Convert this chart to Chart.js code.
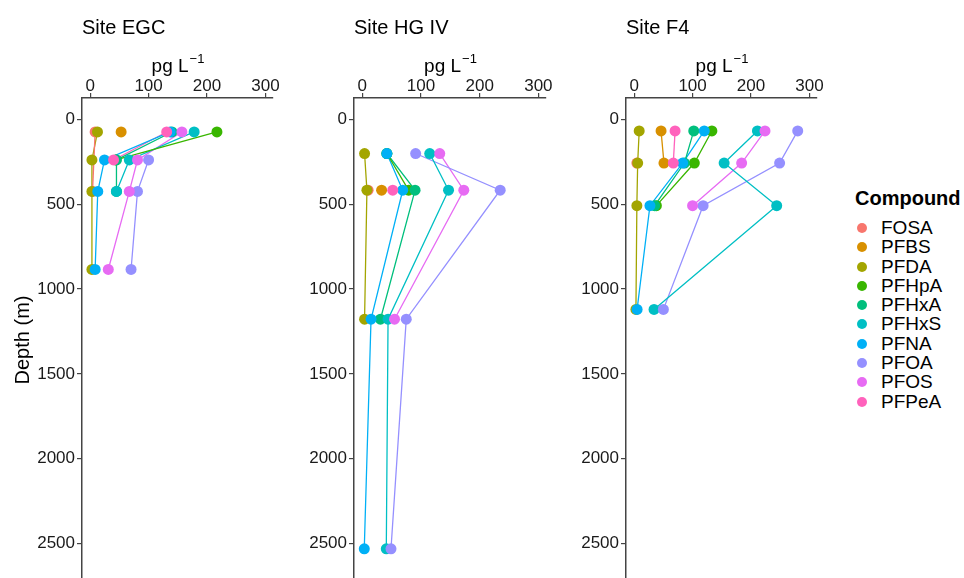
<!DOCTYPE html>
<html>
<head>
<meta charset="utf-8">
<script src="https://cdn.jsdelivr.net/npm/chart.js@4.4.0/dist/chart.umd.min.js"></script>
<style>
  body { margin: 0; background: #fff; width: 964px; height: 578px; overflow: hidden; position: relative;
         font-family: "Liberation Sans", Arial, sans-serif; }
  canvas { position: absolute; top: 0; }
  #legend { position: absolute; left: 855px; top: 186px; color: #000; }
  #legend .ttl { font-weight: bold; font-size: 20px; height: 32px; line-height: 24px; }
  #legend .item { height: 19.3px; line-height: 19.3px; font-size: 19px; position: relative; padding-left: 26px; }
  #legend .dot { position: absolute; left: 2px; top: 5px; width: 10px; height: 10px; border-radius: 50%; }
</style>
</head>
<body>
<canvas id="egc" width="290" height="584" style="left:0px"></canvas>
<canvas id="hg" width="270" height="584" style="left:290px"></canvas>
<canvas id="f4" width="270" height="584" style="left:562px"></canvas>
<div id="legend"></div>
<script>
const compounds = ["FOSA", "PFBS", "PFDA", "PFHpA", "PFHxA", "PFHxS", "PFNA", "PFOA", "PFOS", "PFPeA"];
const colors = ["#F8766D", "#D89000", "#A3A500", "#39B600", "#00BF7D", "#00BFC4", "#00B0F6", "#9590FF", "#E76BF3", "#FF62BC"];
const xTicks = [0, 100, 200, 300];
const yTicks = [0, 500, 1000, 1500, 2000, 2500];

// Site EGC: one row per compound, values (pg/L) at each depth
const egcDepths = [75, 240, 425, 885];
const egcValues = [
  [8.5, null, 4, null],
  [53, null, null, null],
  [12.5, 3, 3, 3],
  [217, 44, null, null],
  [140, 45, 45, null],
  [178, 67, 45, null],
  [137, 24.5, 13, 8.5],
  [null, 100, 81, 70],
  [157, 81, 67, 31],
  [131, 40, null, null]
];

// Site HG IV
const hgDepths = [202, 418, 1178, 2530];
const hgValues = [
  [null, 10, null, null],
  [null, 33, null, null],
  [4, 8, 4, null],
  [42, 79, null, null],
  [42, 90, 31, null],
  [115, 147, 44, 41],
  [42, 69, 15, 3.5],
  [91, 235, 75, 49],
  [132, 173, 55, null],
  [null, 52, null, null]
];

// Site F4
const f4Depths = [69, 258, 509, 1120];
const f4Values = [
  [null, 4.6, null, null],
  [46, 51, null, null],
  [8.6, 6, 4.6, 3],
  [133, 103, 38, null],
  [102, 86, 35, null],
  [211, 154, 244, 34],
  [120, 83, 27, 5],
  [280, 249, 118, 50],
  [224, 184, 100, null],
  [70, 67, null, null]
];

const FONT = '"Liberation Sans", Arial, sans-serif';

function makeDatasets(values, depths) {
  const sets = [];
  values.forEach((row, i) => {
    const pts = [];
    row.forEach((v, j) => { if (v !== null) pts.push({ x: v, y: depths[j] }); });
    // lines underneath, points on top, later compounds over earlier ones
    sets.push({ label: compounds[i] + "_line", data: pts, showLine: true, borderColor: colors[i],
                borderWidth: 1.3, pointRadius: 0, order: 100 });
    sets.push({ label: compounds[i], data: pts, showLine: false, backgroundColor: colors[i],
                borderWidth: 0, pointRadius: 5.5, order: -i });
  });
  return sets;
}

const panelText = {
  id: "panelText",
  afterDraw(chart, args, opts) {
    const { ctx, chartArea } = chart;
    ctx.save();
    ctx.fillStyle = "#000";
    ctx.textBaseline = "alphabetic";
    ctx.textAlign = "left";
    ctx.font = "20px " + FONT;
    ctx.fillText(opts.title, chartArea.left, 34);

    const main = "pg L", sup = "\u22121";
    ctx.font = "19px " + FONT;
    const w1 = ctx.measureText(main).width;
    ctx.font = "13px " + FONT;
    const w2 = ctx.measureText(sup).width;
    const x0 = (chartArea.left + chartArea.right) / 2 - (w1 + w2) / 2;
    ctx.font = "19px " + FONT;
    ctx.fillText(main, x0, 72);
    ctx.font = "13px " + FONT;
    ctx.fillText(sup, x0 + w1 + 1, 63);

    if (opts.yTitle) {
      ctx.translate(29, 340);
      ctx.rotate(-Math.PI / 2);
      ctx.textAlign = "center";
      ctx.font = "20px " + FONT;
      ctx.fillText(opts.yTitle, 0, 0);
    }
    ctx.restore();
  }
};

function makeChart(id, values, depths, title, yw, padRight, yTitle) {
  new Chart(document.getElementById(id), {
    type: "scatter",
    data: { datasets: makeDatasets(values, depths) },
    plugins: [panelText],
    options: {
      responsive: false,
      animation: false,
      events: [],
      layout: { padding: { left: 0, top: 0, right: padRight, bottom: 0 } },
      plugins: {
        legend: { display: false },
        tooltip: { enabled: false },
        panelText: { title: title, yTitle: yTitle }
      },
      scales: {
        x: {
          type: "linear", position: "top", min: -14, max: 313,
          afterBuildTicks: s => { s.ticks = xTicks.map(v => ({ value: v })); },
          afterFit: s => { s.height = 98; s.paddingLeft = 0; s.paddingRight = 0; },
          grid: { drawOnChartArea: false, tickLength: 5, color: "#444", lineWidth: 1.2 },
          border: { color: "#444", width: 1.5 },
          ticks: { color: "#1a1a1a", padding: -2, font: { size: 17, family: FONT, lineHeight: 1 },
                   callback: v => String(v) }
        },
        y: {
          type: "linear", reverse: true, min: -125, max: 2705,
          afterBuildTicks: s => { s.ticks = yTicks.map(v => ({ value: v })); },
          afterFit: s => { s.width = yw; s.paddingTop = 0; s.paddingBottom = 0; },
          grid: { drawOnChartArea: false, tickLength: 5, color: "#444", lineWidth: 1.2 },
          border: { color: "#444", width: 1.5 },
          ticks: { color: "#1a1a1a", padding: 2, font: { size: 17, family: FONT }, callback: v => String(v) }
        }
      }
    }
  });
}

makeChart("egc", egcValues, egcDepths, "Site EGC", 82, 17, "Depth (m)");
makeChart("hg", hgValues, hgDepths, "Site HG IV", 64, 14, null);
makeChart("f4", f4Values, f4Depths, "Site F4", 64, 15, null);

// legend
const legend = document.getElementById("legend");
legend.innerHTML = '<div class="ttl">Compound</div>' + compounds.map((c, i) =>
  '<div class="item"><span class="dot" style="background:' + colors[i] + '"></span>' + c + '</div>').join("");
</script>
</body>
</html>
